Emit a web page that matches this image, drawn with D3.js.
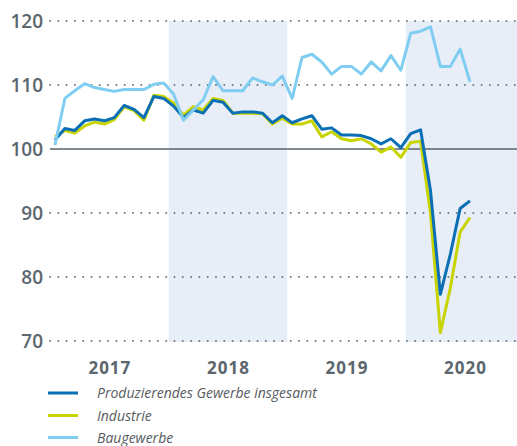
<!DOCTYPE html>
<html>
<head>
<meta charset="utf-8">
<script src="https://cdn.jsdelivr.net/npm/d3@7"></script>
<style>
  html, body { margin: 0; padding: 0; background: #fff; }
  svg { display: block; }
</style>
</head>
<body>
<svg id="chart" width="517" height="446"></svg>
<script>
const months = [
  "2017-01","2017-02","2017-03","2017-04","2017-05","2017-06","2017-07","2017-08","2017-09","2017-10","2017-11","2017-12",
  "2018-01","2018-02","2018-03","2018-04","2018-05","2018-06","2018-07","2018-08","2018-09","2018-10","2018-11","2018-12",
  "2019-01","2019-02","2019-03","2019-04","2019-05","2019-06","2019-07","2019-08","2019-09","2019-10","2019-11","2019-12",
  "2020-01","2020-02","2020-03","2020-04","2020-05","2020-06","2020-07"
];
const produzierend = [
  101.4,103.2,102.9,104.4,104.7,104.4,104.9,106.8,106.2,104.9,108.2,107.9,
  106.7,104.9,106.1,105.6,107.6,107.3,105.6,105.8,105.8,105.6,104.1,105.2,
  104.1,104.7,105.2,103.1,103.3,102.2,102.2,102.1,101.6,100.8,101.6,100.2,
  102.4,103.0,93.5,77.3,83.5,90.7,91.9
];
const industrie = [
  101.9,102.9,102.5,103.6,104.2,103.9,104.6,106.6,106.0,104.5,108.4,108.2,
  107.2,105.3,106.6,106.1,107.9,107.6,105.6,105.6,105.6,105.5,103.9,104.8,
  103.9,103.9,104.4,101.9,102.7,101.6,101.3,101.6,100.8,99.5,100.3,98.7,
  101.0,101.2,90.0,71.3,78.2,87.0,89.3
];
const baugewerbe = [
  100.6,107.9,109.1,110.2,109.6,109.3,109.0,109.3,109.3,109.3,110.1,110.3,
  108.6,104.5,106.1,107.7,111.3,109.1,109.1,109.1,111.1,110.5,110.0,111.4,
  107.9,114.3,114.8,113.6,111.7,112.9,112.9,111.7,113.6,112.2,114.6,112.3,
  118.1,118.4,119.1,112.9,112.9,115.6,110.5
];
const years = ["2017","2018","2019","2020"];
const shadedYears = ["2018","2020"];
const yTicks = [70, 80, 90, 100, 110, 120];
const seriesNames = ["Produzierendes Gewerbe insgesamt","Industrie","Baugewerbe"];
const seriesColors = ["#0a6fb4","#c8d400","#80cdf2"];

const W = 517, H = 446;
const svg = d3.select("#chart");
const fontStack = "'Open Sans', 'Noto Sans', sans-serif";

const x = d3.scaleLinear().domain([0, months.length - 1]).range([55, 470]);
const y = d3.scaleLinear().domain([70, 120]).range([341, 21]);
const plotLeft = 50, plotRight = W;

// shaded years
shadedYears.forEach(yr => {
  const first = months.indexOf(yr + "-01");
  const x0 = x(first - 0.5);
  const x1 = Math.min(plotRight, x(first + 11.5));
  svg.append("rect")
    .attr("x", x0).attr("y", y(120))
    .attr("width", x1 - x0).attr("height", y(70) - y(120) + 1)
    .attr("fill", "#e8eef8");
});

// dotted grid
yTicks.filter(t => t !== 100).forEach(t => {
  svg.append("line")
    .attr("x1", plotLeft).attr("x2", plotRight)
    .attr("y1", y(t)).attr("y2", y(t))
    .attr("stroke", "#6b7880")
    .attr("stroke-width", 2)
    .attr("stroke-linecap", "round")
    .attr("stroke-dasharray", "0,8.3");
});
// baseline 100
svg.append("line")
  .attr("x1", plotLeft).attr("x2", plotRight)
  .attr("y1", y(100)).attr("y2", y(100))
  .attr("stroke", "#5a636a").attr("stroke-width", 1.5);

// y axis labels
const yAxis = d3.axisLeft(y).tickValues(yTicks).tickSize(0).tickPadding(0).tickFormat(d3.format("d"));
const gy = svg.append("g").attr("transform", "translate(43,0)").call(yAxis);
gy.select(".domain").remove();
gy.selectAll("text")
  .attr("font-family", fontStack)
  .attr("font-size", 19)
  .attr("font-weight", 600)
  .attr("fill", "#5b666e")
  .attr("dy", "0.34em");

// x axis year labels
const yearCenters = years.map(yr => months.indexOf(yr + "-01") + 5.5);
const xAxis = d3.axisBottom(x).tickValues(yearCenters).tickSize(0).tickPadding(0)
  .tickFormat((d, i) => years[i]);
const gx = svg.append("g").attr("transform", "translate(0,360)").call(xAxis);
gx.select(".domain").remove();
gx.selectAll("text")
  .attr("font-family", fontStack)
  .attr("font-size", 17)
  .attr("font-weight", 700)
  .attr("letter-spacing", "1px")
  .attr("fill", "#5b666e")
  .attr("dy", "0.8em");

// lines
const line = d3.line().x((d, i) => x(i)).y(d => y(d));
const drawOrder = [
  { data: industrie, color: seriesColors[1] },
  { data: produzierend, color: seriesColors[0] },
  { data: baugewerbe, color: seriesColors[2] }
];
drawOrder.forEach(s => {
  svg.append("path")
    .datum(s.data)
    .attr("d", line)
    .attr("fill", "none")
    .attr("stroke", s.color)
    .attr("stroke-width", 3)
    .attr("stroke-linejoin", "round")
    .attr("stroke-linecap", "butt");
});

// legend
const legY = [393, 415.5, 437.5];
seriesNames.forEach((name, i) => {
  svg.append("line")
    .attr("x1", 48).attr("x2", 78)
    .attr("y1", legY[i]).attr("y2", legY[i])
    .attr("stroke", seriesColors[i]).attr("stroke-width", 3);
  svg.append("text")
    .attr("x", 97).attr("y", legY[i])
    .attr("dy", "0.36em")
    .attr("font-family", fontStack)
    .attr("font-size", 14)
    .attr("font-style", "italic")
    .attr("fill", "#555b60")
    .text(name);
});
</script>
</body>
</html>
